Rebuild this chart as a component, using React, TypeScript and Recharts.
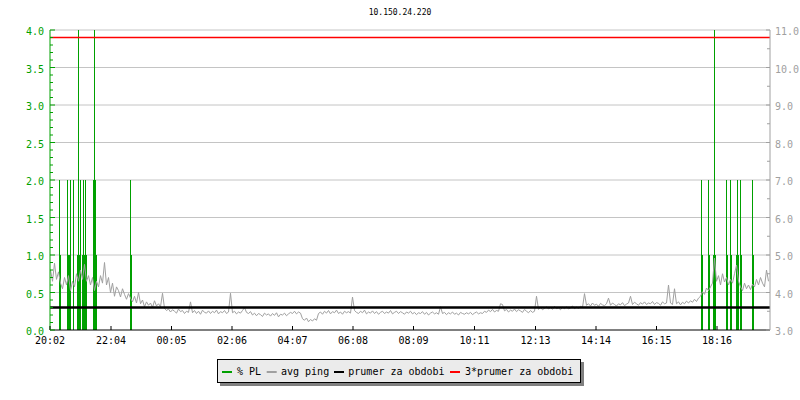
import React from 'react';
import { ComposedChart, XAxis, YAxis, CartesianGrid, Line, Bar, ReferenceLine } from 'recharts';

// ---- data ----
const title = '10.150.24.220';

// x axis: minutes since 20:02
const tickMinutes = [0, 122, 243, 364, 485, 606, 727, 849, 971, 1092, 1213, 1334];
const tickLabels = ['20:02', '22:04', '00:05', '02:06', '04:07', '06:08', '08:09', '10:11', '12:13', '14:14', '16:15', '18:16'];

// avg ping (ms, right axis), one sample every 4 minutes starting at minute 1
const pingStart = 1;
const pingStep = 4;
const pingValues = [
  4.6, 4.3, 4.78, 4.35, 4.55, 4.25, 4.1, 4.4, 4.2, 4.45,
  4.05, 4.3, 4.15, 4.5, 4.3, 4.6, 4.35, 4.75, 4.3, 4.45,
  4.2, 4.4, 4.05, 4.3, 4.15, 4.45, 4.25, 4.8, 4.2, 4.4,
  4.0, 4.25, 3.9, 4.15, 4.05, 3.88, 4.1, 3.95, 3.82, 3.97,
  3.85, 3.75, 3.9, 3.72, 4.0, 3.7, 3.8, 3.62, 3.75, 3.66,
  3.72, 3.6, 3.78, 3.64, 3.7, 3.62, 3.98, 3.58, 3.52, 3.56,
  3.48, 3.54, 3.5, 3.45, 3.56, 3.49, 3.52, 3.44, 3.5, 3.47,
  3.75, 3.46, 3.52, 3.44, 3.5, 3.42, 3.53, 3.47, 3.45, 3.51,
  3.44, 3.5, 3.46, 3.53, 3.43, 3.49, 3.46, 3.52, 3.44, 3.48,
  3.98, 3.46, 3.5, 3.43, 3.48, 3.45, 3.52, 3.6, 3.47, 3.44,
  3.49, 3.4, 3.45, 3.38, 3.44, 3.41, 3.36, 3.45, 3.4, 3.43,
  3.37, 3.44, 3.39, 3.46, 3.35, 3.42, 3.4, 3.45, 3.38, 3.43,
  3.47, 3.44, 3.5, 3.43, 3.48, 3.45, 3.3, 3.26, 3.32, 3.22,
  3.28, 3.24, 3.3, 3.26, 3.44, 3.48, 3.42, 3.5, 3.45, 3.52,
  3.43, 3.49, 3.46, 3.53, 3.44, 3.48, 3.42, 3.5, 3.46, 3.49,
  3.45, 3.88, 3.52, 3.47, 3.44, 3.5, 3.46, 3.53, 3.43, 3.48,
  3.45, 3.51, 3.44, 3.49, 3.42, 3.47, 3.5, 3.44, 3.48, 3.45,
  3.52, 3.43, 3.47, 3.5, 3.44, 3.49, 3.46, 3.42, 3.48, 3.45,
  3.5, 3.43, 3.47, 3.41, 3.46, 3.44, 3.49, 3.42, 3.47, 3.4,
  3.45, 3.48, 3.43, 3.46, 3.42, 3.62, 3.44, 3.47, 3.41, 3.46,
  3.43, 3.48, 3.42, 3.45, 3.4, 3.47, 3.44, 3.42, 3.46, 3.43,
  3.47, 3.41, 3.45, 3.48, 3.43, 3.46, 3.44, 3.5, 3.47, 3.53,
  3.49, 3.55, 3.48, 3.52, 3.5, 3.7, 3.68, 3.51, 3.55, 3.48,
  3.53, 3.5, 3.56, 3.49, 3.54, 3.51, 3.47, 3.55, 3.5, 3.46,
  3.52, 3.47, 3.5, 3.9, 3.55, 3.6, 3.54, 3.58, 3.62, 3.56,
  3.6, 3.55, 3.63, 3.57, 3.59, 3.54, 3.61, 3.57, 3.62, 3.56,
  3.59, 3.64, 3.57, 3.61, 3.58, 3.63, 3.6, 3.97, 3.66, 3.7,
  3.64, 3.72, 3.66, 3.69, 3.63, 3.71, 3.67, 3.65, 3.7, 3.85,
  3.66, 3.72, 3.68, 3.64, 3.7, 3.67, 3.73, 3.65, 3.69, 3.72,
  3.9, 3.68, 3.74, 3.7, 3.66, 3.73, 3.69, 3.75, 3.68, 3.72,
  3.7, 3.76, 3.68, 3.73, 3.71, 3.66, 3.75, 3.7, 3.72, 4.2,
  3.72, 3.68, 4.1, 3.7, 3.75, 3.67, 3.74, 3.7, 3.77, 3.72,
  3.78, 3.74, 3.82, 3.76, 3.85, 3.9, 4.02, 3.95, 4.12, 4.05,
  4.15, 4.25, 4.92, 4.3, 4.45, 4.2, 4.5, 4.28, 4.4, 4.2,
  4.35, 4.25, 4.5, 4.73, 4.3, 4.15, 4.05, 4.25, 4.1, 4.2,
  4.08, 4.22, 4.15, 4.35, 4.2, 4.4, 4.25, 4.15, 4.6, 4.3,
];

// packet loss (%, left axis) samples: minute and value
const plTimes = [
  19, 21, 35, 37, 39, 41, 47, 55, 57, 59, 61, 65, 67, 69, 71, 73, 87, 89, 91, 93, 161, 163,
  1303, 1305, 1317, 1319, 1327, 1329, 1331, 1353, 1355, 1361, 1363, 1373, 1375, 1377, 1381, 1383, 1405, 1407,
];
const plValues = [
  2, 1, 2, 1, 1, 2, 2, 1, 4, 1, 2, 1, 2, 1, 2, 1, 2, 4, 2, 1, 2, 1,
  2, 1, 2, 1, 1, 4, 1, 2, 1, 2, 1, 1, 2, 1, 2, 1, 2, 1,
];

const avgPing = 3.6;

const legendLabels = ['% PL', 'avg ping', 'prumer za obdobi', '3*prumer za obdobi'];

// ---- styles ----
const GREEN = '#00a000';
const GRAY = '#a0a0a0';
const RED = '#ff0000';
const GRID = '#c4c4c4';
const FONT = '"DejaVu Sans Mono", monospace';
const legendColors = [GREEN, GRAY, '#000000', RED];

// ---- build chart table ----
const rowMap = new Map<number, any>();
pingValues.forEach((v, i) => {
  const t = pingStart + i * pingStep;
  rowMap.set(t, { t, ping: v });
});
plTimes.forEach((t, i) => {
  const r = rowMap.get(t) || { t };
  r.pl = plValues[i];
  rowMap.set(t, r);
});
const chartData = Array.from(rowMap.values()).sort((a, b) => a.t - b.t);

const leftTicks: number[] = [];
for (let k = 0; k <= 40; k++) leftTicks.push(k / 10);
const rightTicks: number[] = [];
for (let k = 6; k <= 22; k++) rightTicks.push(k / 2);
const gridValues = [0.5, 1, 1.5, 2, 2.5, 3, 3.5, 4];

const LeftTick = (props: any) => {
  const { x, y, payload } = props;
  const v = payload.value as number;
  const major = Math.abs(v * 2 - Math.round(v * 2)) < 1e-6;
  return (
    <g>
      <line x1={x} x2={x + (major ? 5 : 3)} y1={y} y2={y} stroke={GREEN} />
      {major && (
        <text x={x - 6} y={y + 5} textAnchor="end" fill={GREEN} fontSize={10} fontFamily={FONT}>
          {v.toFixed(1)}
        </text>
      )}
    </g>
  );
};

const RightTick = (props: any) => {
  const { x, y, payload } = props;
  const v = payload.value as number;
  const major = Math.abs(v - Math.round(v)) < 1e-6;
  return (
    <g>
      <line x1={x} x2={x - (major ? 4 : 3)} y1={y} y2={y} stroke={GRAY} />
      {major && (
        <text x={x + 5} y={y + 5} textAnchor="start" fill={GRAY} fontSize={10} fontFamily={FONT}>
          {v.toFixed(1)}
        </text>
      )}
    </g>
  );
};

const XTick = (props: any) => {
  const { x, y, payload } = props;
  const idx = tickMinutes.indexOf(payload.value);
  return (
    <g>
      <line x1={x} x2={x} y1={y} y2={y - 4} stroke="#000" />
      <text x={x} y={y + 14} textAnchor="middle" fill="#000" fontSize={10} fontFamily={FONT}>
        {idx >= 0 ? tickLabels[idx] : ''}
      </text>
    </g>
  );
};

const PlShape = (props: any) => {
  const { x, y, width, height, fill } = props;
  if (!(height > 0) || !isFinite(x)) return null;
  const px = Math.floor(x + width / 2);
  return <rect x={px} y={y} width={1} height={height} fill={fill} />;
};

export default function App() {
  const swatchX = [222, 266.7, 334, 450];
  const textX = [237, 281, 348.3, 465];
  return (
    <div style={{ position: 'absolute', left: 0, top: 0, width: 800, height: 400, background: '#fff' }}>
      <ComposedChart
        width={800}
        height={400}
        data={chartData}
        margin={{ top: 30, right: 0, bottom: 40, left: 0 }}
      >
        <CartesianGrid
          vertical={false}
          horizontal
          yAxisId="left"
          horizontalValues={gridValues}
          stroke={GRID}
        />
        <XAxis
          dataKey="t"
          type="number"
          domain={[0, 1440]}
          allowDataOverflow
          ticks={tickMinutes}
          interval={0}
          tickSize={0}
          tickMargin={0}
          tickLine={false}
          height={30}
          axisLine={{ stroke: '#000' }}
          tick={(p: any) => <XTick {...p} />}
        />
        <YAxis
          yAxisId="left"
          orientation="left"
          type="number"
          width={50}
          domain={[0, 4]}
          allowDataOverflow
          ticks={leftTicks}
          interval={0}
          tickSize={0}
          tickMargin={0}
          tickLine={false}
          axisLine={{ stroke: GREEN }}
          tick={(p: any) => <LeftTick {...p} />}
        />
        <YAxis
          yAxisId="right"
          orientation="right"
          type="number"
          width={30}
          domain={[3, 11]}
          allowDataOverflow
          ticks={rightTicks}
          interval={0}
          tickSize={0}
          tickMargin={0}
          tickLine={false}
          axisLine={{ stroke: GRAY }}
          tick={(p: any) => <RightTick {...p} />}
        />
        <Line
          yAxisId="right"
          dataKey="ping"
          stroke={GRAY}
          strokeWidth={1}
          dot={false}
          connectNulls
          isAnimationActive={false}
        />
        <ReferenceLine yAxisId="right" y={avgPing} stroke="#000" strokeWidth={2.4} />
        <ReferenceLine yAxisId="right" y={avgPing * 3} stroke={RED} strokeWidth={1.4} />
        <Bar
          yAxisId="left"
          dataKey="pl"
          fill={GREEN}
          barSize={1}
          isAnimationActive={false}
          shape={(p: any) => <PlShape {...p} />}
        />
      </ComposedChart>
      <svg
        width={800}
        height={400}
        style={{ position: 'absolute', left: 0, top: 0, pointerEvents: 'none' }}
      >
        <text x={400} y={15} textAnchor="middle" fontSize={8} fontFamily={FONT} fill="#000">
          {title}
        </text>
        <rect x={220} y={362} width={364} height={24} fill="#808080" />
        <rect x={217.5} y={359.5} width={363} height={23} fill="#ebebeb" stroke="#000" />
        {legendLabels.map((lab, i) => (
          <g key={lab}>
            <rect x={swatchX[i]} y={371} width={10} height={2} fill={legendColors[i]} />
            <text x={textX[i]} y={375} fontSize={10} fontFamily={FONT} fill="#000">
              {lab}
            </text>
          </g>
        ))}
      </svg>
    </div>
  );
}
